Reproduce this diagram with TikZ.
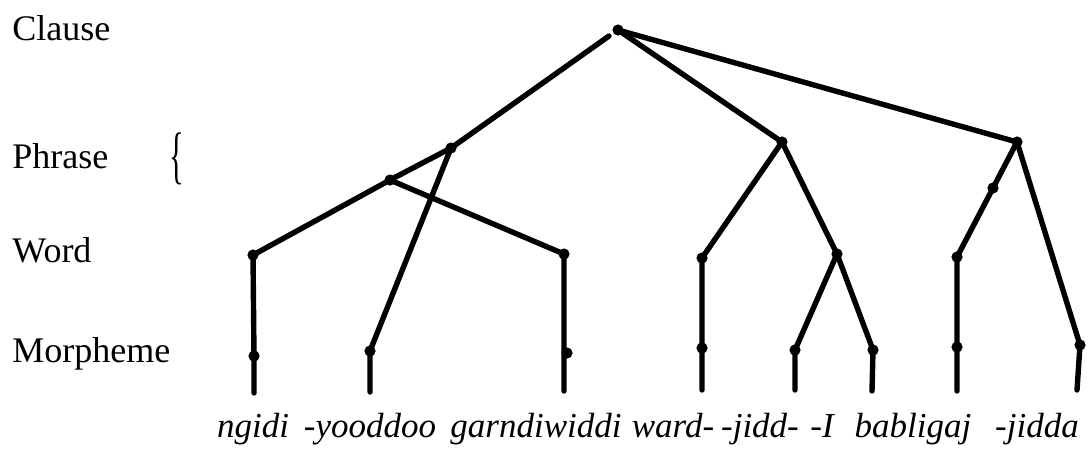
\documentclass[tikz,border=0pt]{standalone}
\usepackage{fontspec}
\setmainfont{Liberation Serif}
\usepackage{graphicx}
\begin{document}
\begin{tikzpicture}[x=0.5pt,y=-0.5pt,
  dot/.style={circle,fill=black,inner sep=0pt,minimum size=5.6pt},
  edge/.style={line width=2.7pt,line cap=round},
  lvl/.style={anchor=base west,inner sep=0pt,font=\fontsize{18}{20}\selectfont},
  wd/.style={anchor=base,inner sep=0pt,font=\fontsize{17.5}{20}\selectfont\itshape}]
\useasboundingbox (0,0) rectangle (1091,451);
% level labels
\node[lvl] (lc) at (12,40) {Clause};
\node[lvl] (lp) at (12,168) {Phrase};
\node[lvl] (lw) at (12,262) {Word};
\node[lvl] (lm) at (12,362) {Morpheme};
\node[inner sep=0pt,font=\fontsize{18}{20}\selectfont] (br) at (177,159) {\scalebox{0.85}[1.75]{\{}};
% tree points
\node[dot] (C) at (618,30) {};
\node[dot] (P1) at (451,148) {};
\node[dot] (P1a) at (390,180) {};
\node[dot] (P2) at (782,142) {};
\node[dot] (P3) at (1017,142) {};
\node[dot] (P3a) at (993,188) {};
\node[dot] (W1) at (253,255) {};
\node[dot] (W3) at (564,254) {};
\node[dot] (W4) at (702,258) {};
\node[dot] (W5) at (837,254) {};
\node[dot] (W6) at (957,257) {};
\node[dot] (M1) at (254,356) {};
\node[dot] (M2) at (370,351) {};
\node[dot] (M3) at (567,353) {};
\node[dot] (M4) at (702,348) {};
\node[dot] (M5) at (795,350) {};
\node[dot] (M6) at (873,350) {};
\node[dot] (M7) at (957,347) {};
\node[dot] (M8) at (1080,345) {};
\coordinate (B1) at (254,393);
\coordinate (B2) at (370,392);
\coordinate (B3) at (564,391);
\coordinate (B4) at (702,390);
\coordinate (B5) at (795,390);
\coordinate (B6) at (872,391);
\coordinate (B7) at (957,391);
\coordinate (B8) at (1077,390);
\coordinate (Cg) at (609,36);
% edges
\draw[edge] (Cg) -- (P1.center);
\draw[edge] (C.center) -- (P2.center);
\draw[edge] (C.center) -- (P3.center);
\draw[edge] (P1.center) -- (P1a.center);
\draw[edge] (P1.center) -- (M2.center) -- (B2);
\draw[edge] (P1a.center) -- (W1.center) -- (M1.center) -- (B1);
\draw[edge] (P1a.center) -- (W3.center) -- (B3);
\draw[edge] (P2.center) -- (W4.center) -- (M4.center) -- (B4);
\draw[edge] (P2.center) -- (W5.center);
\draw[edge] (W5.center) -- (M5.center) -- (B5);
\draw[edge] (W5.center) -- (M6.center) -- (B6);
\draw[edge] (P3.center) -- (P3a.center) -- (W6.center) -- (M7.center) -- (B7);
\draw[edge] (P3.center) -- (M8.center) -- (B8);
% words
\node[wd] (t1) at (253,437) {ngidi};
\node[wd] (t2) at (370,437) {-yooddoo};
\node[wd] (t3) at (536,437) {garndiwiddi};
\node[wd] (t4) at (673,437) {ward-};
\node[wd] (t5) at (760,437) {-jidd-};
\node[wd] (t6) at (822,437) {-I};
\node[wd] (t7) at (913,437) {babligaj};
\node[wd] (t8) at (1037,437) {-jidda};
\end{tikzpicture}
\end{document}
